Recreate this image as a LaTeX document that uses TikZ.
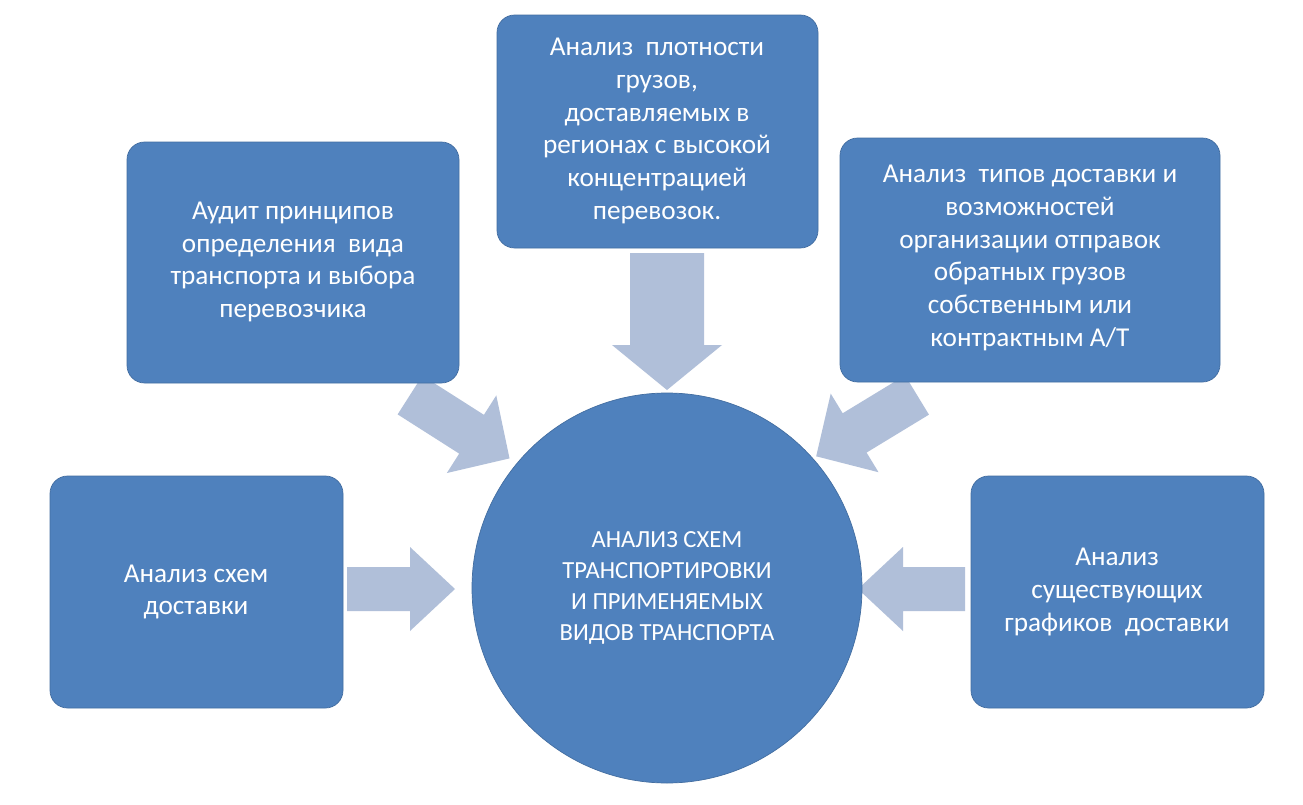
\documentclass[tikz,border=0pt]{standalone}
\usepackage{fontspec}
\setmainfont{Carlito}
\definecolor{boxc}{HTML}{4F81BD}
\definecolor{arrc}{HTML}{B0BFD9}
\tikzset{
 box/.style={fill=boxc,draw=boxc!85!black,line width=0.4pt,rounded corners=10pt,text=white,align=center,font=\fontsize{15.5}{18.7}\selectfont,inner sep=0pt},
 barrow/.style={fill=arrc,draw=none}
}
\newcommand{\blockarrow}[6]{% x y angle length shafthalf headhalf
 \begin{scope}[shift={(#1,#2)},rotate=#3]
 \fill[arrc] (0,#5)--(#4-45,#5)--(#4-45,#6)--(#4,0)--(#4-45,-#6)--(#4-45,-#5)--(0,-#5)--cycle;
 \end{scope}}
\begin{document}
\begin{tikzpicture}[x=0.02cm,y=-0.02cm]
\useasboundingbox (0,0) rectangle (1303,805);
\fill[white] (0,0) rectangle (1303,805);
% arrows
\blockarrow{667}{253}{-90}{137}{37}{55}
\blockarrow{347}{589}{0}{108}{22}{42}
\blockarrow{965}{589}{180}{107}{22}{42}
\blockarrow{410}{395}{-32.5}{118}{23}{46}
\blockarrow{917}{395}{-148.7}{118}{23}{46}
% circle
\node[circle,fill=boxc,draw=boxc!85!black,minimum size=390*0.02cm,inner sep=0pt,text=white,align=center,font=\fontsize{14}{17.6}\selectfont] (c) at (667,588) {АНАЛИЗ СХЕМ\\ТРАНСПОРТИРОВКИ\\И ПРИМЕНЯЕМЫХ\\ВИДОВ ТРАНСПОРТА};
% boxes
\path[box] (497,15) rectangle (818,248);
\node[text=white,align=center,font=\fontsize{15.5}{18.7}\selectfont] (t) at (657,131) {Анализ\ \ плотности\\грузов,\\доставляемых в\\регионах с высокой\\концентрацией\\перевозок.};
\path[box] (127,142) rectangle (459,383);
\node[text=white,align=center,font=\fontsize{15.5}{18.7}\selectfont] (l1) at (293,262) {Аудит принципов\\определения\ \ вида\\транспорта и выбора\\перевозчика};
\path[box] (840,138) rectangle (1220,382);
\node[text=white,align=center,font=\fontsize{15.5}{18.7}\selectfont] (r1) at (1030,258) {Анализ\ \ типов доставки и\\возможностей\\организации отправок\\обратных грузов\\собственным или\\контрактным А/Т};
\path[box] (50,476) rectangle (343,708);
\node[text=white,align=center,font=\fontsize{15.5}{18.7}\selectfont] (l2) at (196,592) {Анализ схем\\доставки};
\path[box] (971,476) rectangle (1264,708);
\node[text=white,align=center,font=\fontsize{15.5}{18.7}\selectfont] (r2) at (1117,592) {Анализ\\существующих\\графиков\ \ доставки};
\end{tikzpicture}
\end{document}
